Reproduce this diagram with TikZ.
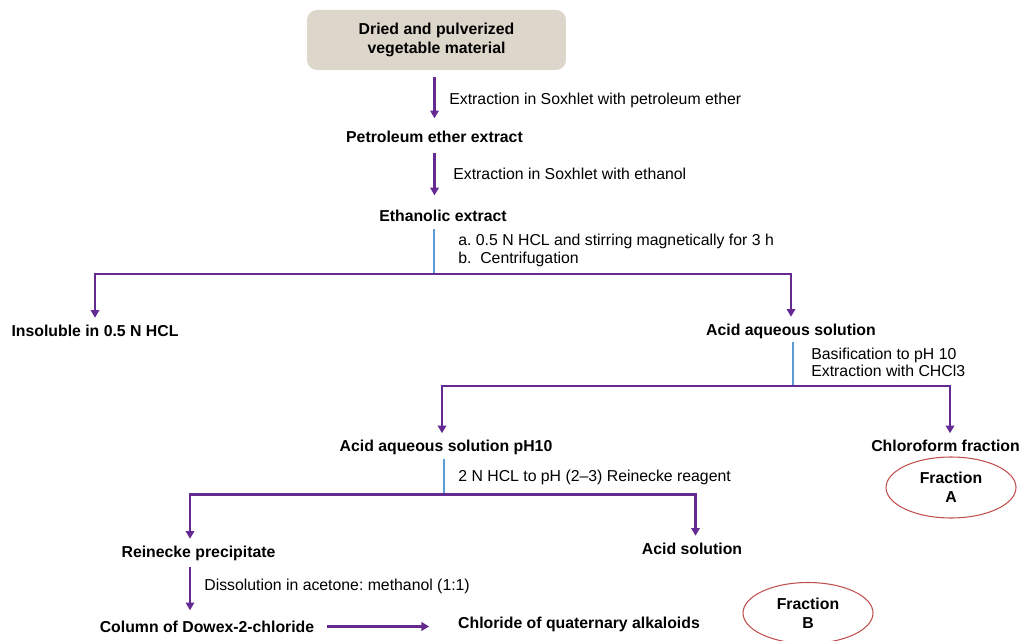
\documentclass[tikz,border=0pt]{standalone}
\usepackage{fontspec}
\setmainfont{Liberation Sans}
\usetikzlibrary{arrows.meta, shapes.geometric}

\begin{document}
\frenchspacing
\begin{tikzpicture}[x=0.02cm, y=-0.02cm,
    stage/.style={font=\bfseries, inner sep=0pt, outer sep=4pt, text height=6.5pt, text depth=0pt},
    note/.style={anchor=west, inner sep=0pt, text height=6.5pt, text depth=0pt},
    notes/.style={anchor=north west, inner sep=0pt, align=left},
    flow/.style={draw=flowColour, line width=1.3pt, -{Triangle[width=4.8pt,length=4.4pt]}},
    treat/.style={draw=treatColour, line width=1.3pt},
    fraction/.style={ellipse, draw=fractionColour, line width=0.6pt, minimum width=2.6cm, minimum height=1.22cm,
        inner sep=0pt, align=center, font=\bfseries\fontsize{9}{10.8}\selectfont}]

    % Define the colours
    \definecolor{flowColour}{HTML}{652A91}
    \definecolor{treatColour}{HTML}{5B9BD5}
    \definecolor{fractionColour}{HTML}{C0504D}
    \definecolor{boxColour}{HTML}{DDD6CA}

    \useasboundingbox (0,0) rectangle (1020,641);
    \fontsize{9}{9.8}\selectfont

    % Draw the stages
    \node[fill=boxColour, rounded corners=0.2cm, minimum width=5.18cm, minimum height=1.2cm, align=center,
        font=\bfseries\fontsize{9}{11}\selectfont] (plant) at (436.5,40) {Dried and pulverized\\vegetable material};
    \node[stage] (petrol) at (434.5,137) {Petroleum ether extract};
    \node[stage] (ethanol) at (443,216) {Ethanolic extract};
    \node[stage] (insoluble) at (95,330.5) {Insoluble in 0.5 N HCL};
    \node[stage] (acid) at (791,329.5) {Acid aqueous solution};
    \node[stage] (acidph) at (446,446) {Acid aqueous solution pH10};
    \node[stage] (chloroform) at (945.5,446) {Chloroform fraction};
    \node[stage] (reinecke) at (198.5,551.5) {Reinecke precipitate};
    \node[stage] (acidsol) at (692,548.5) {Acid solution};
    \node[stage] (dowex) at (207,626.5) {Column of Dowex-2-chloride};
    \node[stage] (chloride) at (579,623) {Chloride of quaternary alkaloids};

    % Draw the fractions
    \node[fraction] (fracA) at (951,487.5) {Fraction\\A};
    \node[fraction] (fracB) at (808,613) {Fraction\\B};

    % Define the split points and arrow columns
    \coordinate (splitA) at (434,274);
    \coordinate (splitB) at (793,386);
    \coordinate (splitC) at (444,494.5);
    \coordinate (reineckeCol) at (190,0);

    % Draw the extractions
    \draw[flow, shorten <=4pt, shorten >=3.4pt] (petrol.north |- plant.south) -- (petrol.north);
    \draw[flow, shorten <=1.7pt, shorten >=4.5pt] (petrol.south) -- (petrol.south |- ethanol.north);

    % Draw the treatments and branches
    \draw[treat] (splitA |- ethanol.south) -- (splitA);
    \draw[flow] (splitA) -| (insoluble.north);
    \draw[flow] (splitA) -| (acid.north);

    \draw[treat] (splitB |- acid.south) -- (splitB);
    \draw[flow] (splitB) -| ([xshift=-0.08cm]acidph.north);
    \draw[flow] (splitB) -| ([xshift=0.09cm]chloroform.north);

    \draw[treat] (splitC |- acidph.south) -- (splitC);
    \draw[flow] (splitC) -| ([xshift=-0.17cm]reinecke.north);
    \draw[flow] (splitC) -| ([xshift=0.07cm]acidsol.north);

    \draw[flow, shorten <=1.7pt, shorten >=2pt] (reineckeCol |- reinecke.south) -- (reineckeCol |- dowex.north);
    \draw[flow, shorten <=3.4pt, shorten >=12.5pt] (dowex.east) -- (dowex.east -| chloride.west);

    % Label the steps
    \node[note] (petrolNote) at (449,99) {Extraction in Soxhlet with petroleum ether};
    \node[note] (ethanolNote) at (453,174) {Extraction in Soxhlet with ethanol};
    \node[notes] (acidNote) at (458,234) {a. 0.5 N HCL and stirring magnetically for 3 h\\b.\ \ Centrifugation};
    \node[notes] (baseNote) at (811,347.5) {Basification to pH 10\\Extraction with CHCl3};
    \node[note] (reineckeNote) at (458,476) {2 N HCL to pH (2--3) Reinecke reagent};
    \node[note] (dissolveNote) at (204,585) {Dissolution in acetone: methanol (1:1)};

\end{tikzpicture}
\end{document}
